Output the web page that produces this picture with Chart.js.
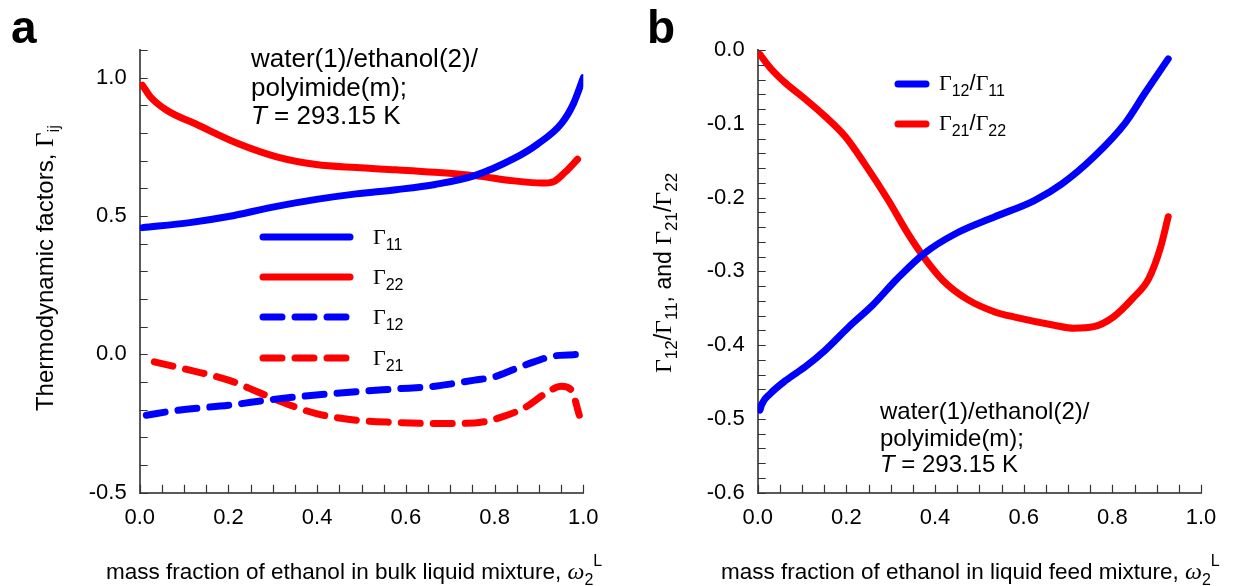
<!DOCTYPE html>
<html><head><meta charset="utf-8">
<script src="https://cdn.jsdelivr.net/npm/chart.js@4.4.1/dist/chart.umd.min.js"></script>
<style>
html,body{margin:0;padding:0;background:#fff;}
#wrap{position:relative;width:1239px;height:586px;overflow:hidden;background:#fff;}
.box{position:absolute;top:0;height:586px;}
</style></head><body>
<div id="wrap">
<div class="box" style="left:0;width:620px"><canvas id="ca"></canvas></div>
<div class="box" style="left:620px;width:619px"><canvas id="cb"></canvas></div>
</div>
<script>
// ---- Panel a data: thermodynamic factors vs mass fraction of ethanol ----
const g11X = [0.006,0.113,0.2,0.3,0.398,0.488,0.577,0.666,0.755,0.844,0.897,0.951,0.978,1.0];
const g11Y = [0.458,0.476,0.498,0.532,0.560,0.580,0.595,0.614,0.646,0.708,0.760,0.835,0.907,1.0];
const g22X = [0.006,0.024,0.06,0.131,0.22,0.309,0.398,0.488,0.577,0.666,0.755,0.844,0.906,0.933,0.96,0.987];
const g22Y = [0.973,0.931,0.883,0.829,0.763,0.714,0.686,0.675,0.667,0.658,0.646,0.627,0.619,0.624,0.66,0.705];
const g12X = [0.015,0.086,0.2,0.3,0.398,0.488,0.577,0.666,0.755,0.8,0.844,0.889,0.933,1.0];
const g12Y = [-0.22,-0.202,-0.184,-0.163,-0.147,-0.135,-0.125,-0.115,-0.093,-0.081,-0.054,-0.027,-0.006,0.0];
const g21X = [0.033,0.113,0.2,0.265,0.309,0.398,0.488,0.577,0.666,0.755,0.817,0.871,0.915,0.951,0.973,0.991];
const g21Y = [-0.027,-0.057,-0.093,-0.135,-0.165,-0.214,-0.238,-0.246,-0.25,-0.248,-0.226,-0.19,-0.141,-0.115,-0.129,-0.22];
// ---- Panel b data: ratios vs mass fraction of ethanol in feed ----
const r1X = [0.005,0.01,0.028,0.063,0.108,0.152,0.206,0.259,0.313,0.375,0.446,0.535,0.624,0.687,0.758,0.829,0.874,0.926];
const r1Y = [-0.488,-0.479,-0.466,-0.448,-0.429,-0.407,-0.375,-0.346,-0.311,-0.276,-0.249,-0.226,-0.204,-0.181,-0.145,-0.099,-0.058,-0.012];
const r2X = [0.005,0.028,0.063,0.108,0.152,0.197,0.241,0.295,0.339,0.375,0.419,0.473,0.535,0.58,0.669,0.713,0.758,0.802,0.847,0.882,0.909,0.926];
const r2Y = [-0.006,-0.024,-0.045,-0.067,-0.09,-0.117,-0.154,-0.204,-0.249,-0.281,-0.313,-0.338,-0.355,-0.362,-0.373,-0.377,-0.375,-0.362,-0.336,-0.31,-0.267,-0.226];
// ---- tick settings ----
const aXTicks = {min:0, max:1, step:0.05, labelEvery:0.2};
const aYTicks = {min:-0.5, max:1.1, step:0.1, labelEvery:0.5};
const bXTicks = {min:0, max:1, step:0.05, labelEvery:0.2};
const bYTicks = {min:-0.6, max:0, step:0.02, labelEvery:0.1};

const SANS = '"Liberation Sans", Arial, sans-serif';
const SERIF = '"Liberation Serif", "Times New Roman", serif';
const BLUE = '#0000ff', RED = '#ff0000';
Chart.defaults.font.family = SANS;
Chart.defaults.color = '#000';

const zip = (xs, ys) => xs.map((x, i) => ({x, y: ys[i]}));

function ds(label, xs, ys, color, dashed){
  return {label, data: zip(xs, ys), borderColor: color, backgroundColor: color,
    borderWidth: 7, pointRadius: 0, borderCapStyle: 'round', borderJoinStyle: 'round',
    borderDash: dashed ? [19, 13] : [], cubicInterpolationMode: 'monotone', fill: false};
}

function isMult(v, m){ const r = v / m; return Math.abs(r - Math.round(r)) < 1e-6; }

function scales(xt, yt, yw, xh){
  return {
    x: {type:'linear', min: xt.min, max: xt.max,
      grid: {display:false, drawTicks:false}, border: {display:true, color:'#5a5a5a', width:2},
      ticks: {stepSize: xt.step, autoSkip:false, maxRotation:0, padding: 12, font:{size:22},
        callback: v => isMult(v, xt.labelEvery) ? (Math.abs(v)<1e-9?0:v).toFixed(1) : ''},
      afterFit: s => { s.height = xh; s.paddingLeft = 0; s.paddingRight = 0; }},
    y: {type:'linear', min: yt.min, max: yt.max,
      grid: {display:false, drawTicks:false}, border: {display:true, color:'#5a5a5a', width:2},
      ticks: {stepSize: yt.step, autoSkip:false, padding: 13, font:{size:22},
        callback: v => isMult(v, yt.labelEvery) ? (Math.abs(v)<1e-9?0:v).toFixed(1) : ''},
      afterFit: s => { s.width = yw; s.paddingTop = 0; s.paddingBottom = 0; }}
  };
}

const tickPlugin = {
  id: 'inwardTicks',
  beforeDatasetsDraw(chart){
    const ctx = chart.ctx, ca = chart.chartArea, xs = chart.scales.x, ys = chart.scales.y;
    ctx.save(); ctx.strokeStyle = '#333'; ctx.lineWidth = 1.2;
    ctx.beginPath();
    xs.ticks.forEach(t => { const p = Math.round(xs.getPixelForValue(t.value)) + 0.5;
      ctx.moveTo(p, ca.bottom); ctx.lineTo(p, ca.bottom - 8); });
    ys.ticks.forEach(t => { const p = Math.round(ys.getPixelForValue(t.value)) + 0.5;
      ctx.moveTo(ca.left, p); ctx.lineTo(ca.left + 8, p); });
    ctx.stroke(); ctx.restore();
  }
};

function rich(ctx, parts, x, y, align){
  let w = 0;
  parts.forEach(p => { ctx.font = p[1]; w += ctx.measureText(p[0]).width; });
  let cx = align === 'center' ? x - w / 2 : x;
  parts.forEach(p => { ctx.font = p[1]; ctx.fillText(p[0], cx, y + (p[2] || 0)); cx += ctx.measureText(p[0]).width; });
}

function legendLine(ctx, ds, x1, x2, y){
  ctx.save(); ctx.strokeStyle = ds.borderColor; ctx.lineWidth = ds.borderWidth; ctx.lineCap = 'round';
  ctx.setLineDash(ds.borderDash || []);
  ctx.beginPath(); ctx.moveTo(x1, y); ctx.lineTo(x2, y); ctx.stroke(); ctx.restore();
}

const G = (s, sz) => [s, `${sz||22}px ${SERIF}`];
const SUB = (s, sz) => [s, `${sz||16}px ${SANS}`, 6];

const decorA = {
  id: 'decorA',
  afterDraw(chart){
    const ctx = chart.ctx; ctx.save(); ctx.fillStyle = '#000'; ctx.textBaseline = 'alphabetic';
    ctx.font = `bold 46px ${SANS}`; ctx.fillText('a', 11, 43);
    // annotation
    ctx.font = `26px ${SANS}`;
    ctx.fillText('water(1)/ethanol(2)/', 251, 67);
    ctx.fillText('polyimide(m);', 251, 96);
    rich(ctx, [['T', `italic 26px ${SANS}`], [' = 293.15 K', `26px ${SANS}`]], 251, 124);
    // legend
    const rows = [[0,237,'11'],[1,277,'22'],[2,317,'12'],[3,358,'21']];
    rows.forEach(r => {
      legendLine(ctx, chart.data.datasets[r[0]], 263, 350, r[1]);
      rich(ctx, [G('Γ'), SUB(r[2])], 373, r[1] + 7);
    });
    // axis titles
    rich(ctx, [['mass fraction of ethanol in bulk liquid mixture, ', `22.5px ${SANS}`], ['ω', `italic 24px ${SERIF}`], ['2', `16px ${SANS}`, 6], ['L', `16px ${SANS}`, -13]], 106, 579);
    ctx.translate(53, 268); ctx.rotate(-Math.PI / 2);
    rich(ctx, [['Thermodynamic factors, ', `24px ${SANS}`], ['Γ', `25px ${SERIF}`], ['ij', `17px ${SANS}`, 6]], 0, 0, 'center');
    ctx.restore();
  }
};

const decorB = {
  id: 'decorB',
  afterDraw(chart){
    const ctx = chart.ctx; ctx.save(); ctx.fillStyle = '#000'; ctx.textBaseline = 'alphabetic';
    ctx.font = `bold 46px ${SANS}`; ctx.fillText('b', 27, 43);
    ctx.font = `24px ${SANS}`;
    ctx.fillText('water(1)/ethanol(2)/', 260, 419);
    ctx.fillText('polyimide(m);', 260, 446);
    rich(ctx, [['T', `italic 24px ${SANS}`], [' = 293.15 K', `24px ${SANS}`]], 260, 472);
    const rows = [[0,84,'12','11'],[1,124,'21','22']];
    rows.forEach(r => {
      legendLine(ctx, chart.data.datasets[r[0]], 278, 306, r[1]);
      rich(ctx, [G('Γ'), SUB(r[2]), ['/', `22px ${SANS}`], G('Γ'), SUB(r[3])], 319, r[1] + 6);
    });
    rich(ctx, [['mass fraction of ethanol in liquid feed mixture, ', `22.5px ${SANS}`], ['ω', `italic 24px ${SERIF}`], ['2', `16px ${SANS}`, 6], ['L', `16px ${SANS}`, -13]], 101, 579);
    ctx.translate(51, 273); ctx.rotate(-Math.PI / 2);
    const F = `23px ${SANS}`;
    rich(ctx, [G('Γ',24), SUB('12',17), ['/', F], G('Γ',24), SUB('11',17), [', and ', F], G('Γ',24), SUB('21',17), ['/', F], G('Γ',24), SUB('22',17)], 0, 0, 'center');
    ctx.restore();
  }
};

const common = {responsive: true, maintainAspectRatio: false, animation: false,
  plugins: {legend: {display:false}, tooltip: {enabled:false}}};

new Chart(document.getElementById('ca'), {
  type: 'line',
  data: {datasets: [ds('Γ11', g11X, g11Y, BLUE, false), ds('Γ22', g22X, g22Y, RED, false),
                    ds('Γ12', g12X, g12Y, BLUE, true), ds('Γ21', g21X, g21Y, RED, true)]},
  options: Object.assign({}, common, {
    layout: {padding: {left: 0, top: 50, right: 36.7, bottom: 0}},
    scales: scales(aXTicks, aYTicks, 139.7, 93.3)}),
  plugins: [tickPlugin, decorA]
});

new Chart(document.getElementById('cb'), {
  type: 'line',
  data: {datasets: [ds('Γ12/Γ11', r1X, r1Y, BLUE, false), ds('Γ21/Γ22', r2X, r2Y, RED, false)]},
  options: Object.assign({}, common, {
    layout: {padding: {left: 0, top: 50, right: 38, bottom: 0}},
    scales: scales(bXTicks, bYTicks, 137.7, 93.3)}),
  plugins: [tickPlugin, decorB]
});
</script>
</body></html>
